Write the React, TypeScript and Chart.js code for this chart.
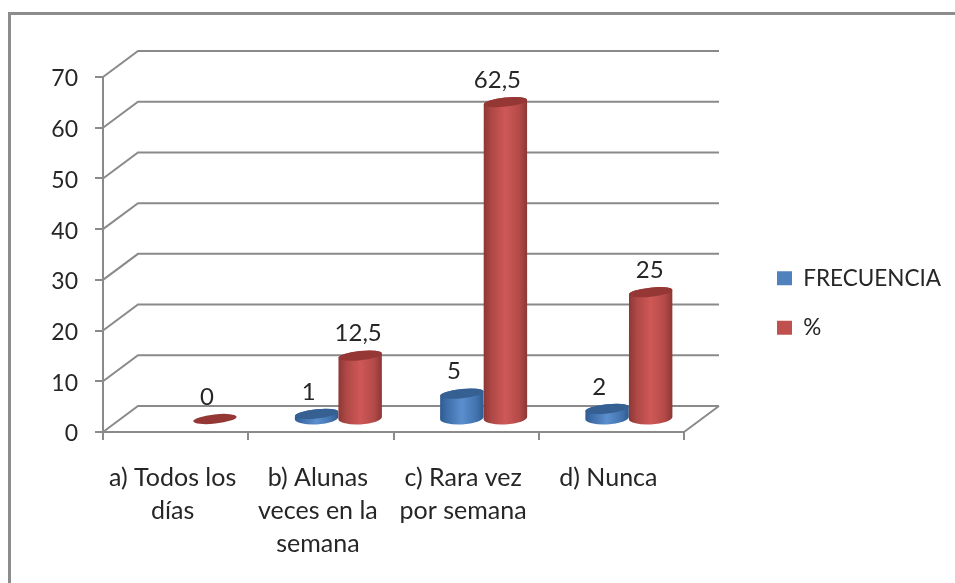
import React, { useEffect, useRef } from "react";
import { Chart, registerables } from "chart.js";

Chart.register(...registerables);

const categories = [
  ["a) Todos los", "días"],
  ["b) Alunas", "veces en la", "semana"],
  ["c) Rara vez", "por semana"],
  ["d) Nunca"],
];
const frecuencia = [null, 1, 5, 2];
const porcentaje = [0, 12.5, 62.5, 25];
const yTickStep = 10;
const yMax = 70;

const FONT = "Lato, Carlito, sans-serif";
const GRID = "#8a8a8a";
const TEXT = "#262626";
const DEPTH_X = 35;
const DEPTH_Y = 26;
const MID_X = 17.5;
const MID_Y = 13;

const looks = [
  { base: "#4f81bd", top: "#376092", stops: ["#2f5b92", "#4170ab", "#5b8fce", "#4474b0", "#2f5b92"] },
  { base: "#c0504d", top: "#953735", stops: ["#8c3735", "#ae4846", "#cf5856", "#b34a48", "#8c3735"] },
];

const plugin3d = {
  id: "plugin3d",
  beforeLayout(chart: any) {
    const l = chart.legend;
    if (l && !l.__wrapped) {
      const fit = l.fit;
      l.fit = function () {
        fit.call(this);
        this.width = 271;
      };
      l.__wrapped = true;
    }
  },
  afterLayout(chart: any) {
    const l = chart.legend;
    if (l) {
      l.left += 66;
      l.right += 66;
      l.top -= 27;
      l.bottom -= 27;
    }
  },
  beforeDraw(chart: any) {
    const c = chart.ctx;
    c.save();
    c.strokeStyle = "#8c8c8c";
    c.lineWidth = 3;
    c.beginPath();
    c.moveTo(9.5, 583);
    c.lineTo(9.5, 13.5);
    c.lineTo(955, 13.5);
    c.stroke();
    c.restore();
  },
  beforeDatasetsDraw(chart: any) {
    const c = chart.ctx;
    const { left, right } = chart.chartArea;
    const y = chart.scales.y;
    c.save();
    c.strokeStyle = GRID;
    c.lineWidth = 2;
    y.ticks.forEach((t: any) => {
      const py = y.getPixelForValue(t.value);
      c.beginPath();
      c.moveTo(left, py);
      c.lineTo(left + DEPTH_X, py - DEPTH_Y);
      c.lineTo(right + DEPTH_X, py - DEPTH_Y);
      if (t.value === 0) {
        c.moveTo(right + DEPTH_X, py - DEPTH_Y);
        c.lineTo(right, py);
      }
      c.stroke();
    });
    c.restore();
  },
  beforeDatasetDraw() {
    return false;
  },
  afterDatasetsDraw(chart: any) {
    const c = chart.ctx;
    const rot = (-6 * Math.PI) / 180;
    const ry = 4.6;
    const ryBase = 6.4;
    const labels: any[] = [];
    chart.data.datasets.forEach((ds: any, di: number) => {
      const meta = chart.getDatasetMeta(di);
      meta.data.forEach((bar: any, i: number) => {
        const v = ds.data[i];
        if (v === null || v === undefined) return;
        const cx = bar.x + MID_X;
        const rx = bar.width / 2;
        const yb = bar.base - MID_Y;
        const yt = bar.y - MID_Y;
        const g = c.createLinearGradient(cx - rx, 0, cx + rx, 0);
        [0, 0.18, 0.5, 0.82, 1].forEach((s, k) => g.addColorStop(s, looks[di].stops[k]));
        if (v > 0) {
          c.beginPath();
          c.ellipse(cx, yb, rx, ryBase, rot / 2, 0, Math.PI);
          c.ellipse(cx, yt, rx, ry, rot, Math.PI, Math.PI * 2);
          c.closePath();
          c.fillStyle = g;
          c.fill();
        }
        c.beginPath();
        c.ellipse(cx, yt, rx, ry, rot, 0, Math.PI * 2);
        c.fillStyle = looks[di].top;
        c.fill();
        const shift = di === 1 && i === 1 ? -2 : di === 1 && i === 3 ? -1 : -8;
        labels.push({ text: String(v).replace(".", ","), x: cx + shift, y: yt - 22 });
      });
    });
    c.save();
    c.font = `24px ${FONT}`;
    c.fillStyle = TEXT;
    c.textAlign = "center";
    c.textBaseline = "middle";
    labels.forEach((l) => c.fillText(l.text, l.x, l.y));
    c.restore();
  },
};

export default function App() {
  const ref = useRef<HTMLCanvasElement>(null);
  useEffect(() => {
    const chart = new Chart(ref.current as HTMLCanvasElement, {
      type: "bar",
      data: {
        labels: categories as any,
        datasets: [
          { label: "FRECUENCIA", data: frecuencia as any, backgroundColor: looks[0].base, borderWidth: 0 },
          { label: "%", data: porcentaje as any, backgroundColor: looks[1].base, borderWidth: 0 },
        ],
      },
      options: {
        animation: false,
        responsive: false,
        layout: { padding: { top: 77, left: 0, right: 0, bottom: 0 } },
        datasets: { bar: { categoryPercentage: 0.6, barPercentage: 1 } },
        plugins: {
          tooltip: { enabled: false },
          legend: {
            position: "right",
            onClick: () => {},
            labels: {
              boxWidth: 15,
              boxHeight: 14,
              padding: 27,
              color: TEXT,
              font: { family: FONT, size: 22.5 },
            },
          },
        },
        scales: {
          x: {
            afterFit: (s: any) => {
              s.height = 151;
            },
            border: { color: GRID, width: 2 },
            grid: { drawOnChartArea: false, color: GRID, lineWidth: 2, tickLength: 8 },
            ticks: {
              autoSkip: false,
              maxRotation: 0,
              minRotation: 0,
              padding: 21,
              labelOffset: -3,
              color: TEXT,
              font: { family: FONT, size: 25, lineHeight: "33px" as any },
            },
          },
          y: {
            min: 0,
            max: yMax,
            afterFit: (s: any) => {
              s.width = 103;
            },
            border: { color: GRID, width: 2 },
            grid: { drawOnChartArea: false, color: GRID, lineWidth: 2, tickLength: 8 },
            ticks: {
              stepSize: yTickStep,
              padding: 17,
              labelOffset: 2,
              color: TEXT,
              font: { family: FONT, size: 23 },
            },
          },
        },
      },
      plugins: [plugin3d as any],
    });
    return () => chart.destroy();
  }, []);
  return (
    <canvas
      ref={ref}
      width={955}
      height={583}
      style={{ position: "absolute", left: 0, top: 0, width: 955, height: 583, filter: "blur(0.4px)" }}
    />
  );
}
